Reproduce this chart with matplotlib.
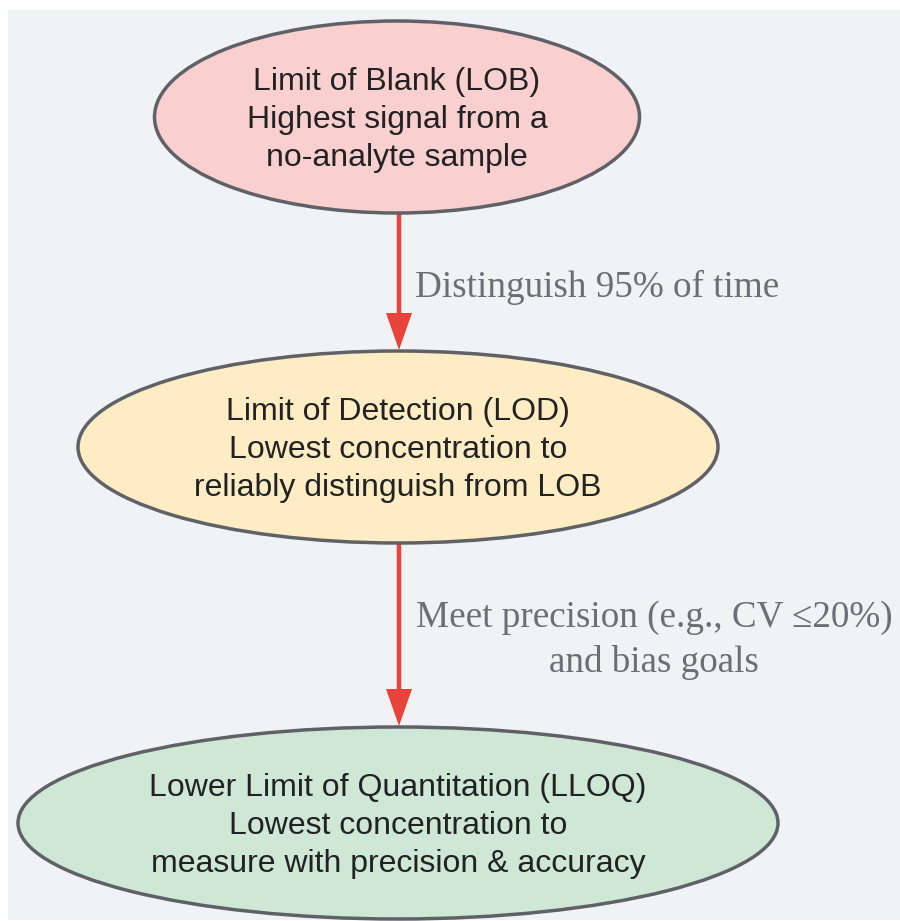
import matplotlib
matplotlib.use("Agg")
import matplotlib.pyplot as plt
from matplotlib.patches import Ellipse, Rectangle

# Nodes of the diagram
node_texts = [
    "Limit of Blank (LOB)\nHighest signal from a\nno-analyte sample",
    "Limit of Detection (LOD)\nLowest concentration to\nreliably distinguish from LOB",
    "Lower Limit of Quantitation (LLOQ)\nLowest concentration to\nmeasure with precision & accuracy",
]
node_colors = ["#f9d0cf", "#fdecc4", "#cfe8d6"]
node_centers = [(397, 117), (398, 447), (398, 823)]
node_sizes = [(485, 192), (640, 192), (760, 192)]

# Edges between nodes
edge_labels = ["Distinguish 95% of time", "Meet precision (e.g., CV \u226420%)\nand bias goals"]
edge_label_pos = [(597, 287), (654, 640)]

fig = plt.figure(figsize=(9, 9.21), dpi=100)
ax = fig.add_axes([0, 0, 1, 1])
ax.set_xlim(0, 900)
ax.set_ylim(921, 0)
ax.axis("off")

# fondo gris
ax.add_patch(Rectangle((8, 10), 892, 910, facecolor="#f1f2f4", edgecolor="none"))

# flechas
for i in range(len(edge_labels)):
    y0 = node_centers[i][1] + node_sizes[i][1] / 2
    y1 = node_centers[i + 1][1] - node_sizes[i + 1][1] / 2 - 1
    ax.arrow(399, y0, 0, y1 - y0, width=4.5, head_width=26, head_length=37,
             length_includes_head=True, color="#e8433a", lw=0, zorder=2)
    lx, ly = edge_label_pos[i]
    ax.text(lx, ly, edge_labels[i], ha="center", va="center", fontsize=26.7,
            family="Liberation Serif", color="#6b6e75", linespacing=1.37)

# nodos
for txt, col, (cx, cy), (w, h) in zip(node_texts, node_colors, node_centers, node_sizes):
    ax.add_patch(Ellipse((cx, cy), w, h, facecolor=col, edgecolor="#5f6166", lw=2.5, zorder=3))
    ax.text(cx, cy + 3, txt, ha="center", va="center", fontsize=23,
            family="Liberation Sans", color="#222222", linespacing=1.33, zorder=4)

fig.savefig("out.png", dpi=100, facecolor="white")
